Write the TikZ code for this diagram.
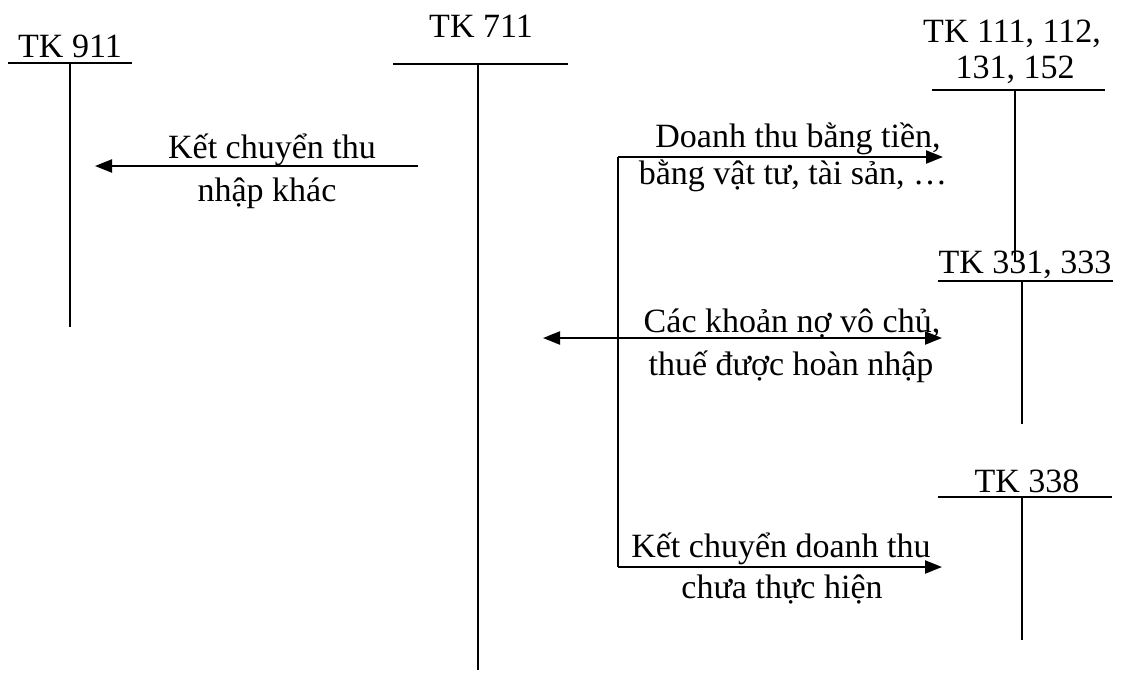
\documentclass[tikz,border=0pt]{standalone}
\usepackage{fontspec}
\setmainfont{Liberation Serif}
\usetikzlibrary{arrows.meta}
\begin{document}
\begin{tikzpicture}[x=1pt,y=-1pt,
  line width=2.2pt,
  lbl/.style={anchor=base,inner sep=0pt,font=\fontsize{34}{40}\selectfont},
  flow/.style={-{Triangle[length=17pt,width=13pt]}},
  acct/.style={line width=2.2pt}]
\useasboundingbox (0,0) rectangle (1121,673);

% T-account frames: top bar ends and foot of the stem
\coordinate (a911l) at (8,63);    \coordinate (a911r) at (132,63);
\coordinate (a911t) at (70,63);   \coordinate (a911b) at (70,327);
\coordinate (a711l) at (393,64);  \coordinate (a711r) at (568,64);
\coordinate (a711t) at (478,64);  \coordinate (a711b) at (478,670);
\coordinate (a111l) at (932,90);  \coordinate (a111r) at (1105,90);
\coordinate (a111t) at (1015,90); \coordinate (a111b) at (1015,262);
\coordinate (a331l) at (938,281); \coordinate (a331r) at (1113,281);
\coordinate (a331t) at (1022,281);\coordinate (a331b) at (1022,424);
\coordinate (a338l) at (938,497); \coordinate (a338r) at (1112,497);
\coordinate (a338t) at (1022,497);\coordinate (a338b) at (1022,640);

\draw[acct] (a911l) -- (a911r) (a911t) -- (a911b);
\draw[acct] (a711l) -- (a711r) (a711t) -- (a711b);
\draw[acct] (a111l) -- (a111r) (a111t) -- (a111b);
\draw[acct] (a331l) -- (a331r) (a331t) -- (a331b);
\draw[acct] (a338l) -- (a338r) (a338t) -- (a338b);

% account titles
\node[lbl] (t911) at (70,57) {TK 911};
\node[lbl] (t711) at (481,37) {TK 711};
\node[lbl] (t111a) at (1012,42) {TK 111, 112,};
\node[lbl] (t111b) at (1015,78) {131, 152};
\node[lbl] (t331) at (1025,273) {TK 331, 333};
\node[lbl] (t338) at (1027,492) {TK 338};

% closing entry to TK 911
\coordinate (k1s) at (418,166);
\coordinate (k1e) at (95,166);
\draw[flow] (k1s) -- (k1e);
\node[lbl] (k1a) at (272,158) {Kết chuyển thu};
\node[lbl] (k1b) at (267,201) {nhập khác};

% trunk with the three entries on the right
\coordinate (r1) at (618,157);
\coordinate (r2) at (618,338);
\coordinate (r3) at (618,567);
\coordinate (e1) at (943,157);
\coordinate (e2) at (942,338);
\coordinate (e3) at (942,567);
\coordinate (w2) at (543,338);
\draw (r1) -- (r3);
\draw[flow] (r1) -- (e1);
\draw[flow] (r2) -- (e2);
\draw[flow] (r2) -- (w2);
\draw[flow] (r3) -- (e3);

\node[lbl] (d1a) at (798,147) {Doanh thu bằng tiền,};
\node[lbl] (d1b) at (793,184) {bằng vật tư, tài sản, …};
\node[lbl] (d2a) at (792,332) {Các khoản nợ vô chủ,};
\node[lbl] (d2b) at (791,375) {thuế được hoàn nhập};
\node[lbl] (d3a) at (781,557) {Kết chuyển doanh thu};
\node[lbl] (d3b) at (782,598) {chưa thực hiện};
\end{tikzpicture}
\end{document}
